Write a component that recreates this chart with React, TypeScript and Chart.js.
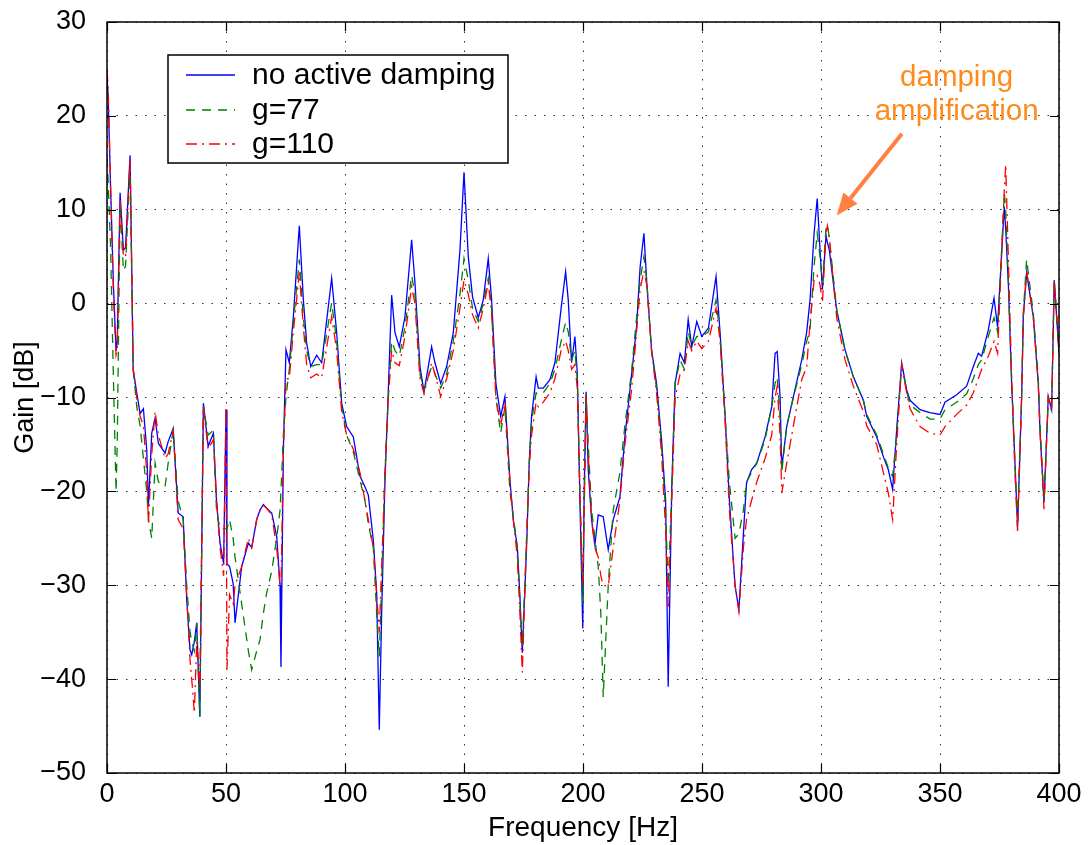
import React, { useEffect, useRef } from 'react';
import { Chart, registerables } from 'chart.js';

Chart.register(...registerables);

// ---- data ----
const freq = [
  0, 0.5, 1.5, 2.7, 3.8, 4.3, 5.5, 6.9, 7.8, 9.7,
  11, 12.5, 13.9, 15.3, 16.7, 17.4, 18.8, 20.2, 21.6, 24.4,
  25.7, 27.8, 29.9, 32, 33.5, 34.9, 35.6, 36.7, 37.7, 39,
  40.5, 42.5, 44.7, 46, 47.5, 49, 50, 50.4, 51.5, 53,
  53.8, 56.6, 59.4, 60.8, 62.9, 64.3, 65.7, 67.1, 69.2, 71.3,
  72.7, 73.1, 74.1, 75.2, 76.6, 78.3, 80.8, 82.5, 83.9, 85.6,
  88.1, 90.2, 94.4, 96.5, 98.6, 100.7, 103.5, 106.3, 108.4, 109.8,
  111.9, 113.3, 114.4, 115.4, 116.8, 118.2, 119.6, 121, 122.8, 125.2,
  128, 129.4, 131.5, 133.2, 136.4, 137.8, 140.2, 142.7, 145.5, 148.3,
  150, 151.8, 153.6, 156, 158.1, 160.2, 161.6, 163.4, 165.4, 167.2,
  169.3, 170.7, 172.4, 173.5, 174.5, 176.3, 177.4, 178.4, 180.3, 181.2,
  183.3, 186.1, 188.2, 190.8, 192.7, 193.8, 195.2, 196.6, 197.6, 198.7,
  199.9, 200.5, 201.3, 202.2, 203.6, 205, 206.4, 207.5, 208.5, 210.6,
  212.7, 215.5, 217.6, 220.5, 222.5, 224, 225.6, 226.8, 228.8, 230.9,
  233, 234.7, 235.8, 237.3, 238.7, 240.8, 242.6, 244.2, 245.7, 247.8,
  249.9, 252.7, 255.9, 257.6, 259.7, 261.5, 263.9, 265.5, 267.4, 268.7,
  270.8, 273, 276.5, 279.3, 280.7, 281.6, 282.8, 283.5, 285.6, 288.4,
  291.9, 294, 295.4, 297.1, 298.4, 299.6, 300.6, 302.1, 302.7, 303.5,
  306.6, 310.1, 313.6, 317.8, 319.2, 323.4, 326.2, 328.3, 330.1, 331.8,
  333.9, 336, 337.4, 341.6, 345.8, 350, 352.1, 357, 361.2, 364,
  366.1, 367.5, 370.3, 372.7, 374.2, 375.2, 377, 377.6, 378.7, 380.1,
  381.5, 382.6, 384.3, 385, 386.4, 389.2, 391.3, 392, 393.7, 395.5,
  396.9, 398, 400,
];

const noActiveDamping = [
  24.2, 22, 12.4, 2, -5, -4, 11.8, 5.7, 6, 15.8,
  -7, -9.5, -11.7, -11.2, -15.6, -21.6, -13.8, -12.2, -14.9, -15.9,
  -14.7, -13.3, -22.3, -22.7, -31.6, -36.9, -37.4, -36, -34, -44,
  -10.6, -15.2, -13.8, -20.9, -25.5, -27.7, -11.3, -27.7, -28, -29.8,
  -34, -28, -25.5, -26, -23, -22, -21.4, -21.8, -22.3, -24.8,
  -30, -38.7, -15.6, -4.9, -6.3, -1.4, 8.3, 0.4, -4.2, -6.7,
  -5.5, -6.3, 2.7, -3.1, -10.6, -13.1, -14.2, -18.4, -19.5, -20.4,
  -25.2, -30.8, -45.4, -33, -18.8, -9.2, 0.9, -3.1, -4.6, -1.4,
  6.8, 2.2, -6.7, -9.4, -4.6, -6.3, -8.5, -6.7, -3.1, 5.7,
  14, 5, 0.7, -1.5, 0.4, 4.8, 0.4, -8.5, -12, -9.9,
  -18.8, -23, -25.9, -31.2, -37.2, -25.9, -17, -12, -7.8, -9,
  -9, -8.1, -6.3, -0.5, 3.4, 0.4, -6.3, -3.5, -7.4, -20.9,
  -34.6, -20, -9.4, -17.7, -23, -25.7, -22.5, -22.6, -22.7, -26.2,
  -23, -20.6, -14.2, -7.4, -2.5, 3.9, 7.5, 2.2, -4.9, -8.5,
  -14.5, -20.9, -40.8, -19.5, -8.5, -5.3, -6.3, -1.7, -4.6, -1.9,
  -3.5, -2.6, 2.9, -3.1, -12, -20.9, -30.1, -32.6, -24.5, -19.1,
  -17.7, -17, -14.2, -11, -5.3, -5.1, -9.9, -17.5, -13.1, -9.9,
  -6, -3, 0.4, 7.5, 11.2, 5.7, 1.5, 7.3, 6.5, 5.7,
  -0.7, -4.9, -7.8, -10.3, -12, -14.2, -16.3, -17.7, -19.8, -13.4,
  -6.3, -9.2, -10.3, -11.3, -11.6, -11.8, -10.5, -9.7, -8.8, -6.7,
  -5.3, -5.6, -2.8, 0.6, -2.5, 2.2, 10.3, 8, 2.2, -8.5,
  -17, -23.8, -9.9, -1.4, 3.3, -1.4, -8.5, -13.4, -21.2, -9.9,
  -11.3, 2.5, -5.3,
];

const gain77 = [
  15.5, 13, 6, -8, -20, -15, 10.5, 3.5, 4, 14.5,
  -7, -11, -13, -16.5, -20, -23, -25, -17, -19, -19.5,
  -17, -13.5, -21, -23, -30, -35, -36, -37, -34, -44,
  -11, -14, -13.5, -22, -24, -24, -24, -24, -23, -25,
  -27, -32, -37, -39, -37, -35.8, -33, -30.8, -28.5, -25,
  -22, -20, -14, -9.9, -7, -2, 4.7, -1.5, -5, -6.7,
  -6.5, -6.5, 0.1, -4, -11, -14, -15.8, -18.8, -21, -23.5,
  -26, -33, -37.6, -30, -18, -10, -4, -5, -5.6, -2.5,
  3, 1, -7.5, -9.2, -6.7, -7.5, -9, -7.5, -4, 1,
  4.8, 2.5, -0.5, -1.9, 0, 2.7, -0.5, -10, -13.8, -11,
  -20, -22.6, -26, -32, -36.5, -25, -17, -12.5, -9.5, -9.7,
  -9.5, -8.5, -7, -4, -2, -3, -6, -5, -8, -20,
  -32, -22, -9.7, -15, -22, -25, -28, -33, -41.9, -30,
  -22, -18, -13, -7, -1.5, 2.5, 5, 2.5, -5, -9,
  -15, -22, -30, -20, -8.5, -6, -7, -3, -4.5, -3.5,
  -3.5, -3, 0.4, -3.5, -12, -19, -25, -24.5, -22, -19,
  -18, -17, -14.5, -11, -8.5, -7.8, -12, -18, -13, -10,
  -6.5, -4, -2.8, 4, 7.5, 5, 2.2, 8, 8.4, 7,
  -0.7, -5, -7.8, -10.3, -11.8, -14, -16, -17.5, -18.4, -14,
  -6.5, -9.3, -10.8, -11.6, -12.3, -12.3, -11.3, -10.5, -9.6, -8,
  -6.5, -6, -3.5, -1.5, -3, 2, 11.8, 10, 2.5, -8,
  -17, -23, -10, -1, 4.7, -1, -8, -13, -21, -10,
  -11, 2.5, -5,
];

const gain110 = [
  24.8, 23, 12.5, 1, -5.5, -5, 11, 5, 5, 15.5,
  -7, -10, -12, -13, -18, -23.5, -16, -11.5, -14, -16.5,
  -16, -13.5, -23, -24, -31, -38, -40, -43.6, -36, -41,
  -11, -15.5, -14.5, -21, -26, -29, -11, -39, -31, -32,
  -30, -28, -25, -26, -23, -22, -21.5, -21.8, -22.5, -26,
  -30, -30, -16, -8, -8, -3, 3.3, -2.5, -6.5, -7.9,
  -7.5, -7.9, -1.4, -5, -11.5, -14, -15.5, -18, -21, -23,
  -26, -31, -35, -28, -18, -10, -5, -6.3, -6.6, -3.5,
  1.8, 0, -8, -9.6, -6.3, -7.5, -9.9, -8, -5, -0.5,
  2.5, 1, -1.2, -2.6, -0.5, 2.2, -1, -10, -13, -10.5,
  -19, -23, -27, -33, -39.3, -25, -17.5, -14, -10.5, -11,
  -10.5, -9.5, -8, -5, -4, -5, -7, -6.5, -9, -20,
  -30, -22, -9.7, -16, -23, -26, -27, -29, -30, -30.1,
  -26, -21, -15, -9, -3, 1.5, 3.5, 2, -5, -9.5,
  -16, -24, -32.3, -21, -10, -7.5, -7, -4, -5, -4,
  -4.8, -4, -0.5, -4, -12.5, -22, -30, -32.8, -26, -23,
  -21, -19, -16.5, -14, -10, -8.8, -14, -20.2, -17, -13,
  -8.1, -6.7, -2, 2.5, 3, 2, 0.1, 7.5, 8.3, 7,
  -1.5, -6, -8.8, -11.5, -13, -15, -18, -20.2, -23, -15,
  -6.5, -9.5, -11.2, -13.1, -13.8, -14, -13.1, -11.8, -10.8, -9.5,
  -8, -7, -5.6, -4, -5.3, 1, 12, 14.8, 5, -8,
  -18, -24.4, -10, -1.5, 3.5, -1.5, -8.5, -13.5, -21.9, -10,
  -11.5, 2.5, -5,
];

const seriesLabels = ['no active damping', 'g=77', 'g=110'];
const xTickValues = [0, 50, 100, 150, 200, 250, 300, 350, 400];
const yTickValues = [-50, -40, -30, -20, -10, 0, 10, 20, 30];
const annotationLines = ['damping', 'amplification'];
// annotation anchor points in data units [Hz, dB]
const annotationTextAt = [357, 22.2];
const arrowFrom = [334, 18.1];
const arrowTo = [306.6, 9.4];

const FONT = "'Liberation Sans', Arial, Helvetica, sans-serif";

const colors = ['rgb(0,0,255)', 'rgb(0,128,0)', 'rgb(255,0,0)'];
const dashes = [[], [9, 7], [11, 5, 2, 5]];

const toPoints = (vals: number[]) => freq.map((f, i) => ({ x: f, y: vals[i] }));

const decorPlugin = {
  id: 'decor',
  afterDatasetsDraw(chart: any) {
    const { ctx, chartArea: a, scales } = chart;
    const xs = scales.x;
    const ys = scales.y;
    ctx.save();
    // frame
    ctx.strokeStyle = '#000';
    ctx.lineWidth = 1.5;
    ctx.setLineDash([]);
    ctx.strokeRect(a.left, a.top, a.right - a.left, a.bottom - a.top);
    // inward ticks
    ctx.lineWidth = 1.2;
    const tl = 9;
    ctx.beginPath();
    xTickValues.forEach((v) => {
      const px = Math.round(xs.getPixelForValue(v)) + 0.5;
      ctx.moveTo(px, a.bottom);
      ctx.lineTo(px, a.bottom - tl);
      ctx.moveTo(px, a.top);
      ctx.lineTo(px, a.top + tl);
    });
    yTickValues.forEach((v) => {
      const py = Math.round(ys.getPixelForValue(v)) + 0.5;
      ctx.moveTo(a.left, py);
      ctx.lineTo(a.left + tl, py);
      ctx.moveTo(a.right, py);
      ctx.lineTo(a.right - tl, py);
    });
    ctx.stroke();

    // legend box
    const bx = a.left + 61;
    const by = a.top + 33;
    const bw = 340;
    const bh = 108;
    ctx.fillStyle = '#fff';
    ctx.fillRect(bx, by, bw, bh);
    ctx.lineWidth = 1.5;
    ctx.strokeStyle = '#000';
    ctx.strokeRect(bx, by, bw, bh);
    ctx.font = `30px ${FONT}`;
    ctx.textBaseline = 'middle';
    ctx.textAlign = 'left';
    const rowY = [20, 55, 89];
    seriesLabels.forEach((lab, i) => {
      const y = by + rowY[i];
      ctx.strokeStyle = colors[i];
      ctx.lineWidth = 1.3;
      ctx.setLineDash(dashes[i]);
      ctx.beginPath();
      ctx.moveTo(bx + 18, y);
      ctx.lineTo(bx + 67, y);
      ctx.stroke();
      ctx.setLineDash([]);
      ctx.fillStyle = '#000';
      ctx.fillText(lab, bx + 84, y + 1);
    });

    // annotation
    const tx = xs.getPixelForValue(annotationTextAt[0]);
    const ty = ys.getPixelForValue(annotationTextAt[1]);
    ctx.fillStyle = '#ff8a1c';
    ctx.font = `29.5px ${FONT}`;
    ctx.textAlign = 'center';
    ctx.fillText(annotationLines[0], tx, ty - 17);
    ctx.fillText(annotationLines[1], tx, ty + 17);

    const x1 = xs.getPixelForValue(arrowFrom[0]);
    const y1 = ys.getPixelForValue(arrowFrom[1]);
    const x2 = xs.getPixelForValue(arrowTo[0]);
    const y2 = ys.getPixelForValue(arrowTo[1]);
    const ang = Math.atan2(y2 - y1, x2 - x1);
    const hl = 22;
    const hw = 9;
    const bxp = x2 - hl * Math.cos(ang);
    const byp = y2 - hl * Math.sin(ang);
    ctx.strokeStyle = '#ff8040';
    ctx.fillStyle = '#ff8040';
    ctx.lineWidth = 4;
    ctx.beginPath();
    ctx.moveTo(x1, y1);
    ctx.lineTo(bxp, byp);
    ctx.stroke();
    ctx.beginPath();
    ctx.moveTo(x2, y2);
    ctx.lineTo(bxp + hw * Math.sin(ang), byp - hw * Math.cos(ang));
    ctx.lineTo(bxp - hw * Math.sin(ang), byp + hw * Math.cos(ang));
    ctx.closePath();
    ctx.fill();
    ctx.restore();
  },
};

const fmt = (v: number) => (v < 0 ? '\u2212' + Math.abs(v) : String(v));

export default function App() {
  const ref = useRef<HTMLCanvasElement | null>(null);

  useEffect(() => {
    document.body.style.margin = '0';
    const canvas = ref.current;
    if (!canvas) return;
    const series = [noActiveDamping, gain77, gain110];
    const chart = new Chart(canvas, {
      type: 'line',
      data: {
        datasets: series.map((vals, i) => ({
          label: seriesLabels[i],
          data: toPoints(vals),
          borderColor: colors[i],
          backgroundColor: colors[i],
          borderWidth: 1.3,
          borderDash: dashes[i],
          pointRadius: 0,
          tension: 0,
          fill: false,
          order: 2 - i,
        })),
      },
      options: {
        animation: false,
        responsive: true,
        maintainAspectRatio: false,
        devicePixelRatio: 1,
        layout: { padding: { left: 0, right: 29, top: 22, bottom: 0 } },
        plugins: { legend: { display: false }, tooltip: { enabled: false } },
        scales: {
          x: {
            type: 'linear',
            min: 0,
            max: 400,
            afterFit: (s: any) => {
              s.height = 72;
            },
            afterBuildTicks: (s: any) => {
              s.ticks = xTickValues.map((v) => ({ value: v }));
            },
            ticks: {
              color: '#000',
              font: { family: FONT, size: 27 },
              padding: 5,
              maxRotation: 0,
              autoSkip: false,
            },
            grid: { color: 'rgba(0,0,0,0.8)', lineWidth: 1, drawTicks: false },
            border: { display: false, dash: [1.5, 8] },
            title: {
              display: true,
              text: 'Frequency [Hz]',
              color: '#000',
              font: { family: FONT, size: 28 },
              padding: { top: 0, bottom: 0 },
            },
          },
          y: {
            min: -50,
            max: 30,
            afterFit: (s: any) => {
              s.width = 107;
              s.paddingTop = 0;
              s.paddingBottom = 0;
            },
            afterBuildTicks: (s: any) => {
              s.ticks = yTickValues.map((v) => ({ value: v }));
            },
            ticks: {
              color: '#000',
              font: { family: FONT, size: 27 },
              padding: 21,
              callback: (v: any) => fmt(Number(v)),
            },
            grid: { color: 'rgba(0,0,0,0.8)', lineWidth: 1, drawTicks: false },
            border: { display: false, dash: [1.5, 8] },
            title: {
              display: true,
              text: 'Gain [dB]',
              color: '#000',
              font: { family: FONT, size: 27 },
              padding: { top: 9, bottom: 0 },
            },
          },
        },
      },
      plugins: [decorPlugin],
    });
    return () => chart.destroy();
  }, []);

  return (
    <div style={{ position: 'relative', width: 1088, height: 845 }}>
      <canvas ref={ref} />
    </div>
  );
}
